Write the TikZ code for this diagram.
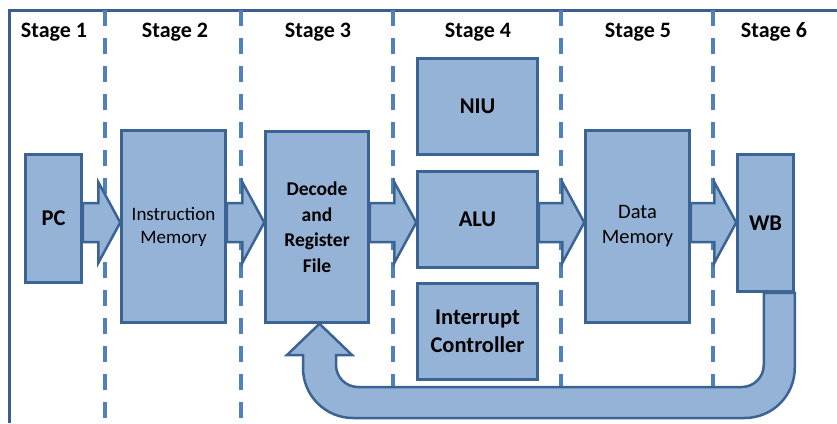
\documentclass[tikz,border=0pt]{standalone}
\usepackage{fontspec}
\setmainfont{Carlito}
\usetikzlibrary{calc,backgrounds}
\definecolor{boxfill}{HTML}{95B3D7}
\definecolor{boxline}{HTML}{3B6394}
\definecolor{dashblue}{HTML}{4F81BD}
\definecolor{frameblue}{HTML}{3A5F8C}

% block arrow between two units, drawn at the common pipeline height
\newcommand\pipearrow[2]{%
  \draw[flow] let \p1=(#1.east), \p2=(#2.west) in
    (\x1,-203pt) -- (\x2-22pt,-203pt) -- (\x2-22pt,-182pt) -- (\x2,-222.5pt)
    -- (\x2-22pt,-263pt) -- (\x2-22pt,-242pt) -- (\x1,-242pt) -- cycle;}

\begin{document}
\begin{tikzpicture}[x=1pt,y=1pt,
  unit/.style={draw=boxline, fill=boxfill, line width=2.5pt, rectangle,
    inner sep=0pt, align=center,
    font=\bfseries\fontsize{22.5}{27.5}\selectfont},
  flow/.style={draw=boxline, fill=boxfill, line width=2.5pt},
  divider/.style={dashblue, line width=3.2pt, dash pattern=on 15.5pt off 12.5pt},
  stagelbl/.style={anchor=base, inner sep=0pt,
    font=\bfseries\fontsize{22}{26}\selectfont}]
\useasboundingbox (0,0) rectangle (837,-423);

% stage headings
\node[stagelbl] (s1) at (54,-37) {Stage 1};
\node[stagelbl] (s2) at (175,-37) {Stage 2};
\node[stagelbl] (s3) at (318,-37) {Stage 3};
\node[stagelbl] (s4) at (478,-37) {Stage 4};
\node[stagelbl] (s5) at (638,-37) {Stage 5};
\node[stagelbl] (s6) at (774,-37) {Stage 6};

% pipeline units
\node[unit, minimum width=56pt, minimum height=128pt] (pc) at (53.5,-218.5) {PC};
\node[unit, minimum width=104pt, minimum height=192pt,
  font=\fontsize{19}{23}\selectfont] (im) at (173.5,-226.5) {Instruction\\Memory};
\node[unit, minimum width=103pt, minimum height=191pt,
  font=\bfseries\fontsize{19.5}{25.5}\selectfont] (dec) at (317,-227) {Decode\\and\\Register\\File};
\node[unit, minimum width=120pt, minimum height=96pt] (niu) at (477.5,-106.5) {NIU};
\node[unit, minimum width=120pt, minimum height=96pt] (alu) at (477.5,-219.5) {ALU};
\node[unit, minimum width=120pt, minimum height=96pt] (irq) at (477.5,-331.5) {Interrupt\\Controller};
\node[unit, minimum width=104pt, minimum height=192pt,
  font=\fontsize{20.5}{25}\selectfont] (dm) at (637.5,-226.5) {Data\\Memory};
\node[unit, minimum width=56pt, minimum height=137pt] (wb) at (765.5,-223) {WB};

\begin{pgfonlayer}{background}
  % outer frame
  \draw[frameblue, line width=3pt] (9,-423) -- (9,-10) -- (837,-10);
  % stage dividers
  \foreach \xd in {105,241,393,561,713}
    \draw[divider] (\xd,-10) -- (\xd,-423);
  % forward flow
  \pipearrow{pc}{im}
  \pipearrow{im}{dec}
  \pipearrow{dec}{alu}
  \pipearrow{alu}{dm}
  \pipearrow{dm}{wb}
  % write-back loop into the register file
  \draw[flow] let \p1=(wb.south east), \p2=(dec.south) in
    (\x1-31pt,\y1) -- (\x1-31pt,-365pt)
    arc[start angle=0, end angle=-90, radius=22pt]
    -- (\x2+41pt,-387pt)
    arc[start angle=-90, end angle=-180, radius=22pt]
    -- (\x2+19pt,-355pt) -- (\x2+35pt,-355pt) -- (\x2+2.5pt,\y2)
    -- (\x2-30pt,-355pt) -- (\x2-14pt,-355pt) -- (\x2-14pt,-368pt)
    arc[start angle=180, end angle=270, radius=50pt]
    -- (\x1-50pt,-418pt)
    arc[start angle=270, end angle=360, radius=50pt]
    -- (\x1,\y1) -- cycle;
\end{pgfonlayer}
\end{tikzpicture}
\end{document}
